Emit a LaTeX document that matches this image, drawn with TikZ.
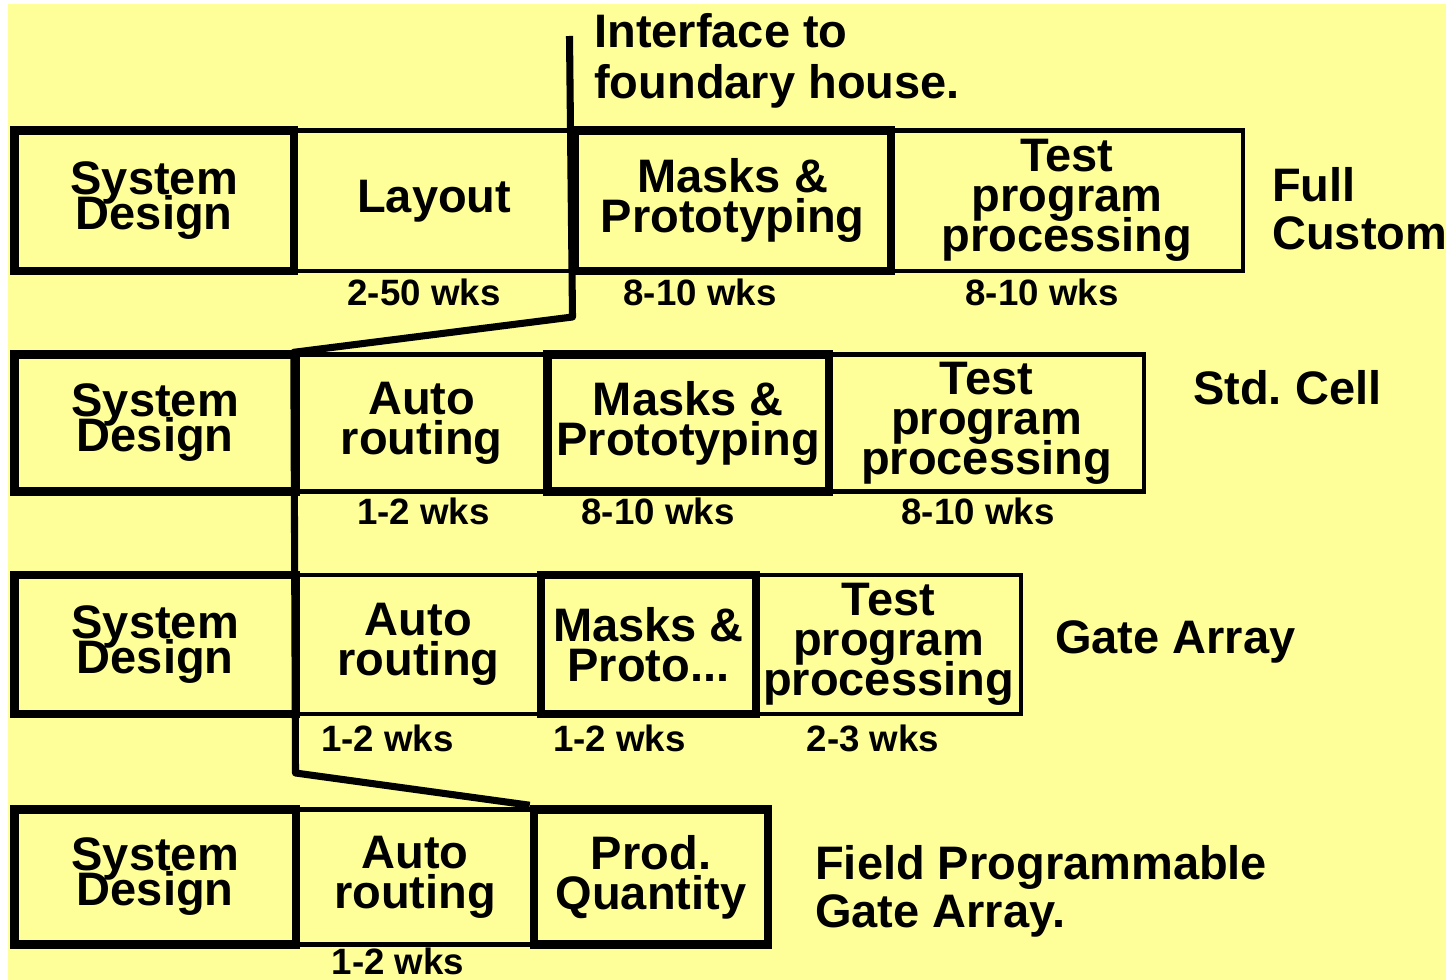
\documentclass[tikz,border=0pt]{standalone}
\usepackage{fontspec}
\setmainfont{Liberation Sans}
\definecolor{paper}{HTML}{FFFF99}
\frenchspacing
\begin{document}
\begin{tikzpicture}[x=0.75pt,y=-0.75pt,
  bigfont/.style={font={\fontsize{35.25}{30}\selectfont\lineskiplimit=-100pt\bfseries}},
  tightfont/.style={font={\fontsize{35.25}{26.25}\selectfont\lineskiplimit=-100pt\bfseries}},
  smallfont/.style={font={\fontsize{27.5}{30}\selectfont\bfseries}},
  wh/.style 2 args={minimum width=#1*0.75pt, minimum height=#2*0.75pt},
  thinbox/.style={draw, rectangle, line width=3.3pt, inner sep=0pt, align=center, bigfont},
  thickbox/.style={draw, rectangle, line width=6.4pt, inner sep=0pt, align=center, bigfont},
  sysbox/.style={thickbox, tightfont},
  weeks/.style={smallfont, anchor=base, inner sep=0pt},
  label/.style={bigfont, anchor=base west, inner sep=0pt, align=left},
  link/.style={line width=5.3pt, line join=round}]

% page and background
\useasboundingbox (0,0) rectangle (1446,980);
\fill[white] (0,0) rectangle (1446,980);
\fill[paper] (8,4) rectangle (1446,980);

% ---- row 1: full custom ----
\node[thinbox, wh={280.5}{140.5}] (lay1) at (434.25,200.75) {Layout};
\node[thinbox, wh={352}{140.5}] (tst1) at (1067,200.75) {Test\\program\\processing};
\node[sysbox, wh={279.5}{140.5}] (sys1) at (154.25,200.75) {System\\Design};
\node[thickbox, wh={316.5}{140.5}] (msk1) at (732.75,200.75) {Masks \&\\Prototyping};

% ---- row 2: standard cell ----
\node[thinbox, wh={251.5}{137}] (rt2) at (421.75,423) {Auto\\routing};
\node[thinbox, wh={315}{137}] (tst2) at (986.5,423) {Test\\program\\processing};
\node[sysbox, wh={281.5}{137}] (sys2) at (155.25,423) {System\\Design};
\node[thickbox, wh={281.5}{137}] (msk2) at (688.25,423) {Masks \&\\Prototyping};

% ---- row 3: gate array ----
\node[thinbox, wh={245}{139}] (rt3) at (418.5,644.5) {Auto\\routing};
\node[thinbox, wh={265}{139}] (tst3) at (888.5,644.5) {Test\\program\\processing};
\node[sysbox, wh={281.5}{139}] (sys3) at (155.25,644.5) {System\\Design};
\node[thickbox, wh={215}{139}] (msk3) at (648.5,644.5) {Masks \&\\Proto...};

% ---- row 4: field programmable gate array ----
\node[thinbox, wh={238}{135}] (rt4) at (415,877) {Auto\\routing};
\node[sysbox, wh={281.5}{135}] (sys4) at (155.25,877) {System\\Design};
\node[thickbox, wh={234}{135}] (prd4) at (651,877) {Prod.\\Quantity};

% durations
\node[weeks] (w11) at (424,306) {2-50 wks};
\node[weeks] (w12) at (700,306) {8-10 wks};
\node[weeks] (w13) at (1042,306) {8-10 wks};
\node[weeks] (w21) at (423.5,524) {1-2 wks};
\node[weeks] (w22) at (658,524) {8-10 wks};
\node[weeks] (w23) at (978,524) {8-10 wks};
\node[weeks] (w31) at (387.5,751) {1-2 wks};
\node[weeks] (w32) at (619.5,751) {1-2 wks};
\node[weeks] (w33) at (873,751) {2-3 wks};
\node[weeks] (w41) at (398,974) {1-2 wks};

% row captions
\node[label] (iface) at (594,48) {Interface to};
\node[label] (iface2) at (594,99) {foundary house.};
\node[label] (fc1) at (1272,202) {Full};
\node[label] (fc2) at (1272,250) {Custom};
\node[label] (sc) at (1193,405) {Std. Cell};
\node[label] (ga) at (1055,653) {Gate Array};
\node[label] (fp1) at (815,879) {Field Programmable};
\node[label] (fp2) at (815,927) {Gate Array.};

% foundry interface line
\coordinate (top) at (569.5,36);
\coordinate (bend1) at (572.5,317);
\coordinate (bend2) at (295.5,773);
\draw[link] (top) -- (bend1) -- (rt2.north west) -- (bend2) -- (prd4.north west);
\end{tikzpicture}
\end{document}
